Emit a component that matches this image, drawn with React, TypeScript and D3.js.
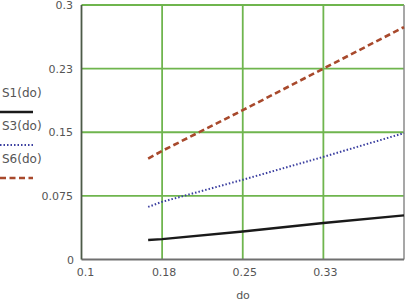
import React, { useEffect, useRef } from 'react'
import * as d3 from 'd3'

// values
const doValues = [0.162, 0.175, 0.25, 0.325, 0.4]
const s1 = [0.023, 0.024, 0.033, 0.043, 0.052]
const s3 = [0.062, 0.068, 0.094, 0.121, 0.149]
const s6 = [0.119, 0.128, 0.176, 0.225, 0.274]

const xTicks = [0.1, 0.175, 0.25, 0.325, 0.4]
const xTickLabels = ['0.1', '0.18', '0.25', '0.33', '']
const yTicks = [0, 0.075, 0.15, 0.225, 0.3]
const yTickLabels = ['0', '0.075', '0.15', '0.23', '0.3']

const seriesNames = ['S1(do)', 'S3(do)', 'S6(do)']

function App() {
  const ref = useRef(null)

  useEffect(() => {
    const W = 407, H = 302
    const left = 81.5, right = 404, top = 5, bottom = 259.5

    d3.select(ref.current).selectAll('*').remove()
    const svg = d3.select(ref.current)
      .append('svg')
      .attr('width', W)
      .attr('height', H)
      .style('display', 'block')
      .style('font-family', 'DejaVu Sans, sans-serif')

    const x = d3.scaleLinear().domain([0.1, 0.4]).range([left, right])
    const y = d3.scaleLinear().domain([0, 0.3]).range([bottom, top])

    svg.append('rect')
      .attr('x', 0).attr('y', 0).attr('width', W).attr('height', H)
      .attr('fill', '#fff')

    // grid
    svg.append('g').selectAll('line')
      .data(yTicks.slice(1))
      .enter().append('line')
      .attr('x1', left).attr('x2', right)
      .attr('y1', d => y(d)).attr('y2', d => y(d))
      .attr('stroke', '#6fb54e').attr('stroke-width', 1.8)
    svg.append('g').selectAll('line')
      .data(xTicks.slice(1, -1))
      .enter().append('line')
      .attr('x1', d => x(d)).attr('x2', d => x(d))
      .attr('y1', top).attr('y2', bottom)
      .attr('stroke', '#6fb54e').attr('stroke-width', 1.8)

    // frame
    svg.append('line')
      .attr('x1', right).attr('x2', right).attr('y1', top).attr('y2', bottom)
      .attr('stroke', '#8a8a8a').attr('stroke-width', 1.5)
    svg.append('line')
      .attr('x1', left).attr('x2', right).attr('y1', bottom).attr('y2', bottom)
      .attr('stroke', '#707070').attr('stroke-width', 1.8)
    svg.append('line')
      .attr('x1', left).attr('x2', left).attr('y1', top).attr('y2', bottom)
      .attr('stroke', '#4d5a48').attr('stroke-width', 1.8)

    // tick labels
    svg.append('g').selectAll('text')
      .data(yTicks)
      .enter().append('text')
      .attr('x', (d, i) => (i === 0 ? 74 : 73))
      .attr('y', d => y(d) + 4)
      .attr('text-anchor', 'end')
      .attr('font-size', 11)
      .attr('fill', '#555')
      .text((d, i) => yTickLabels[i])

    svg.append('g').selectAll('text')
      .data(xTicks)
      .enter().append('text')
      .attr('x', (d, i) => (i === 0 ? x(d) + 4 : x(d) + 2))
      .attr('y', 276)
      .attr('text-anchor', 'middle')
      .attr('font-size', 11)
      .attr('fill', '#555')
      .text((d, i) => xTickLabels[i])

    svg.append('text')
      .attr('x', 243).attr('y', 299)
      .attr('text-anchor', 'middle')
      .attr('font-size', 11)
      .attr('fill', '#555')
      .text('do')

    // series
    const line = d3.line<number>()
      .x((d, i) => x(doValues[i]))
      .y(d => y(d))

    const styles = [
      { data: s1, color: '#1a1a1a', width: 2.4, dash: null },
      { data: s3, color: '#3b3fa0', width: 2, dash: '1.5 2' },
      { data: s6, color: '#a8492c', width: 2.6, dash: '6 3.5' },
    ]

    styles.forEach(s => {
      svg.append('path')
        .datum(s.data)
        .attr('d', line)
        .attr('fill', 'none')
        .attr('stroke', s.color)
        .attr('stroke-width', s.width)
        .attr('stroke-dasharray', s.dash)
    })

    // legend
    const legendY = [97, 130, 163]
    seriesNames.forEach((name, i) => {
      svg.append('text')
        .attr('x', 2).attr('y', legendY[i])
        .attr('font-size', 12)
        .attr('fill', '#555')
        .text(name)
      svg.append('line')
        .attr('x1', 0).attr('x2', 33)
        .attr('y1', legendY[i] + 15).attr('y2', legendY[i] + 15)
        .attr('stroke', styles[i].color)
        .attr('stroke-width', styles[i].width)
        .attr('stroke-dasharray', styles[i].dash)
    })
  }, [])

  return <div ref={ref} style={{ position: 'absolute', left: 0, top: 0 }}></div>
}

export default App
